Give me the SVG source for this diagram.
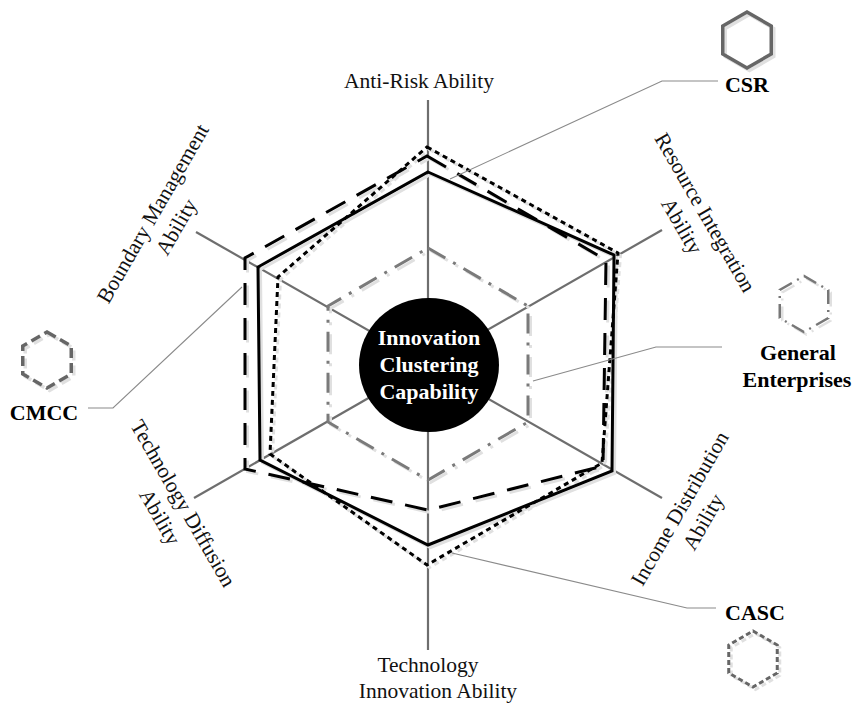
<svg xmlns="http://www.w3.org/2000/svg" width="854" height="704" viewBox="0 0 854 704">
<defs>
<style>
.axis{stroke:#6e6e6e;stroke-width:2.2;fill:none}
.lead{stroke:#8a8a8a;stroke-width:1.1;fill:none}
.lbl{font-family:"Liberation Serif","Times New Roman",serif;font-size:21.5px;fill:#111;text-anchor:middle}
.leg{font-family:"Liberation Serif","Times New Roman",serif;font-size:22px;font-weight:bold;fill:#000;text-anchor:middle}
.ctr{font-family:"Liberation Serif","Times New Roman",serif;font-size:22px;font-weight:bold;fill:#fff;text-anchor:middle}
.sh{stroke:#e0e0e0 !important}
.solid{fill:none;stroke:#000;stroke-width:3}
.dot{fill:none;stroke:#000;stroke-width:3;stroke-dasharray:5 4}
.ldash{fill:none;stroke:#000;stroke-width:3;stroke-dasharray:22 13}
.ddot{fill:none;stroke:#7a7a7a;stroke-width:3;stroke-dasharray:20 9 3 9}
.hx-solid{fill:none;stroke:#666;stroke-width:3.5}
.hx-ddot{fill:none;stroke:#777;stroke-width:2.5;stroke-dasharray:14 6 2 6}
.hx-ldash{fill:none;stroke:#666;stroke-width:3.5;stroke-dasharray:10 5}
.hx-dot{fill:none;stroke:#666;stroke-width:3;stroke-dasharray:5 3}
</style>
<path id="hex" d="M0,-28 L24.25,-14 L24.25,14 L0,28 L-24.25,14 L-24.25,-14 Z"/>
</defs>
<rect width="854" height="704" fill="#fff"/>

<g id="axes">
<line class="axis" x1="428" y1="100" x2="428" y2="650"/>
<line class="axis" x1="196" y1="232" x2="662" y2="498"/>
<line class="axis" x1="662" y1="230" x2="194" y2="498"/>
</g>

<g id="series-shadows" transform="translate(2.5,2.5)">
<polygon class="solid sh" points="428,172 614,255 612,471 428,545 260,460 258,267"/>
<polygon class="dot sh" points="427,147 618,253 602,463 427,565 270,454 278,277"/>
<polygon class="ldash sh" points="427,156 606,260 603,466 428,510 245,469 245,258"/>
<polygon class="ddot sh" points="428,248 528,306 528,422 428,480 328,422 328,306"/>
</g>
<g id="series">
<polygon id="csr" class="solid" points="428,172 614,255 612,471 428,545 260,460 258,267"/>
<polygon id="casc" class="dot" points="427,147 618,253 602,463 427,565 270,454 278,277"/>
<polygon id="cmcc" class="ldash" points="427,156 606,260 603,466 428,510 245,469 245,258"/>
<polygon id="general" class="ddot" points="428,248 528,306 528,422 428,480 328,422 328,306"/>
</g>

<g id="connectors">
<polyline class="lead" points="718,81 662,81 450,179"/>
<polyline class="lead" points="722,347 656,347 533,381"/>
<polyline class="lead" points="88,408 113,408 242,287"/>
<polyline class="lead" points="716,608 687,608 452,553"/>
</g>

<g id="center">
<ellipse cx="429" cy="365" rx="70" ry="67" fill="#000"/>
<text class="ctr" x="429" y="345">Innovation</text>
<text class="ctr" x="429" y="372">Clustering</text>
<text class="ctr" x="429" y="399">Capability</text>
</g>

<g id="axis-labels">
<text class="lbl" x="419" y="88">Anti-Risk Ability</text>
<text class="lbl" x="428" y="672">Technology</text>
<text class="lbl" x="438" y="698">Innovation Ability</text>
<g transform="translate(159,217) rotate(-60)">
<text class="lbl" x="0" y="0">Boundary Management</text>
<text class="lbl" x="0" y="27">Ability</text>
</g>
<g transform="translate(699,216) rotate(60)">
<text class="lbl" x="0" y="0">Resource Integration</text>
<text class="lbl" x="0" y="27">Ability</text>
</g>
<g transform="translate(177,507) rotate(60)">
<text class="lbl" x="0" y="0">Technology Diffusion</text>
<text class="lbl" x="0" y="27">Ability</text>
</g>
<g transform="translate(686,512) rotate(-60)">
<text class="lbl" x="0" y="0">Income Distribution</text>
<text class="lbl" x="0" y="27">Ability</text>
</g>
</g>

<g id="legend-csr">
<use href="#hex" class="hx-solid sh" x="749.5" y="42.5"/>
<use href="#hex" class="hx-solid" x="747" y="40"/>
<text class="leg" x="747" y="92">CSR</text>
</g>
<g id="legend-general">
<use href="#hex" class="hx-ddot sh" x="806.5" y="306.5"/>
<use href="#hex" class="hx-ddot" x="804" y="304"/>
<text class="leg" x="798" y="360">General</text>
<text class="leg" x="797" y="387">Enterprises</text>
</g>
<g id="legend-cmcc">
<use href="#hex" class="hx-ldash sh" x="49.5" y="362.5"/>
<use href="#hex" class="hx-ldash" x="47" y="360"/>
<text class="leg" x="44" y="420">CMCC</text>
</g>
<g id="legend-casc">
<use href="#hex" class="hx-dot sh" x="755.5" y="661.5"/>
<use href="#hex" class="hx-dot" x="753" y="659"/>
<text class="leg" x="755" y="620">CASC</text>
</g>
</svg>
